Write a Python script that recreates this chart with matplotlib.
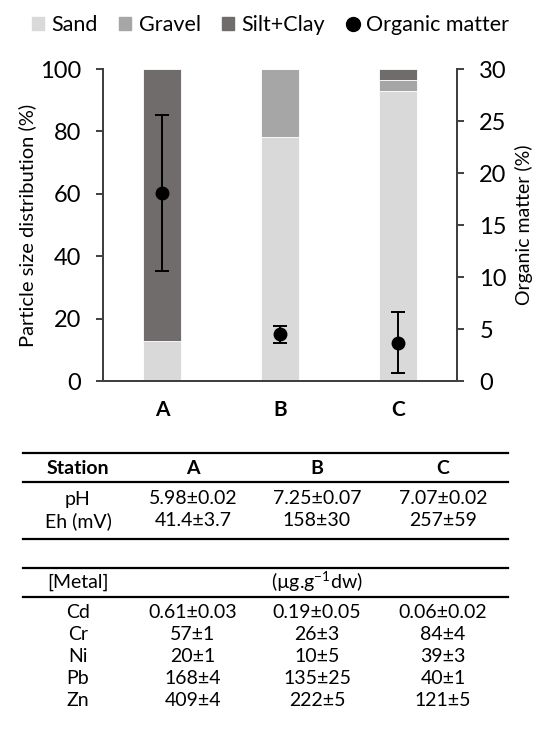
import matplotlib.pyplot as plt
from matplotlib.patches import Patch
from matplotlib.lines import Line2D

plt.rcParams['font.family'] = ['Lato', 'DejaVu Sans']
plt.rcParams['mathtext.fontset'] = 'custom'
plt.rcParams['mathtext.rm'] = 'Lato'

# sediment data
stations = ['A', 'B', 'C']
sand = [12.8, 78.3, 93.0]
gravel = [0.0, 21.7, 3.5]
silt_clay = [87.2, 0.0, 3.5]
organic = [18.1, 4.5, 3.7]
organic_err = [7.5, 0.8, 2.9]

# table data
header = ['Station', 'A', 'B', 'C']
phys_rows = [
    ['pH', '5.98±0.02', '7.25±0.07', '7.07±0.02'],
    ['Eh (mV)', '41.4±3.7', '158±30', '257±59'],
]
metal_rows = [
    ['Cd', '0.61±0.03', '0.19±0.05', '0.06±0.02'],
    ['Cr', '57±1', '26±3', '84±4'],
    ['Ni', '20±1', '10±5', '39±3'],
    ['Pb', '168±4', '135±25', '40±1'],
    ['Zn', '409±4', '222±5', '121±5'],
]

c_sand = '#d9d9d9'
c_gravel = '#a6a6a6'
c_silt = '#716c6c'
c_axis = '#404040'

W, H = 539, 735
fig = plt.figure(figsize=(W / 100, H / 100), dpi=100)
ax = fig.add_axes([103 / W, 1 - 381 / H, 354 / W, 312 / H])
ax2 = ax.twinx()

x = range(len(stations))
bw = 0.32
ax.bar(x, sand, bw, color=c_sand, edgecolor='white', linewidth=0.6)
ax.bar(x, gravel, bw, bottom=sand, color=c_gravel, edgecolor='white', linewidth=0.6)
bottom2 = [s + g for s, g in zip(sand, gravel)]
ax.bar(x, silt_clay, bw, bottom=bottom2, color=c_silt, edgecolor='white', linewidth=0.6)

ax2.errorbar(x, organic, yerr=organic_err, fmt='o', color='black',
             markersize=9, elinewidth=1.4, capsize=5, capthick=1.4)

ax.set_xlim(-0.5, 2.5)
ax.set_ylim(0, 100)
ax2.set_ylim(0, 30)
ax.set_yticks(range(0, 101, 20))
ax2.set_yticks(range(0, 31, 5))
ax.set_xticks(list(x))
ax.set_xticklabels(stations, fontweight='bold', fontsize=15)
ax.tick_params(axis='x', length=0, pad=14)

for a in (ax, ax2):
    a.spines['top'].set_visible(False)
    for s in ('left', 'right', 'bottom'):
        a.spines[s].set_color(c_axis)
        a.spines[s].set_linewidth(1.4)
    a.tick_params(axis='y', direction='out', length=5, width=1.4,
                  color=c_axis, labelsize=17, pad=11)

ax.set_ylabel('Particle size distribution (%)', fontsize=14.5)
ax2.set_ylabel('Organic matter (%)', fontsize=14)
ax.yaxis.set_label_coords(-0.19, 0.5)
ax2.yaxis.set_label_coords(1.165, 0.5)

handles = [
    Patch(color=c_sand, label='Sand'),
    Patch(color=c_gravel, label='Gravel'),
    Patch(color=c_silt, label='Silt+Clay'),
    Line2D([], [], marker='o', color='black', linestyle='none',
           markersize=10, label='Organic matter'),
]
fig.legend(handles=handles, loc='center', bbox_to_anchor=(0.502, 1 - 25 / H),
           ncol=4, frameon=False, fontsize=15.5, handlelength=0.55,
           handleheight=0.55, handletextpad=0.35, columnspacing=1.0)

# table
col_x = [78 / W, 193 / W, 317 / W, 443 / W]
fs = 14


def hline(y, lw=1.6):
    fig.add_artist(Line2D([23 / W, 508 / W], [1 - y / H, 1 - y / H],
                          transform=fig.transFigure, color='black', lw=lw))


def row(y, cells, weight='normal'):
    for cx, txt in zip(col_x, cells):
        fig.text(cx, 1 - y / H, txt, ha='center', va='center',
                 fontsize=fs, fontweight=weight)


hline(453)
row(468, header, weight='bold')
hline(482)
row(499, phys_rows[0])
row(521, phys_rows[1])
hline(539)
hline(568)
fig.text(col_x[0], 1 - 582 / H, '[Metal]', ha='center', va='center', fontsize=fs)
fig.text(col_x[2], 1 - 582 / H, r'(µg.g$^{-1}$dw)', ha='center', va='center', fontsize=fs)
hline(597)
for i, r in enumerate(metal_rows):
    row(613 + 22 * i, r)

fig.savefig('out.png', dpi=100)
